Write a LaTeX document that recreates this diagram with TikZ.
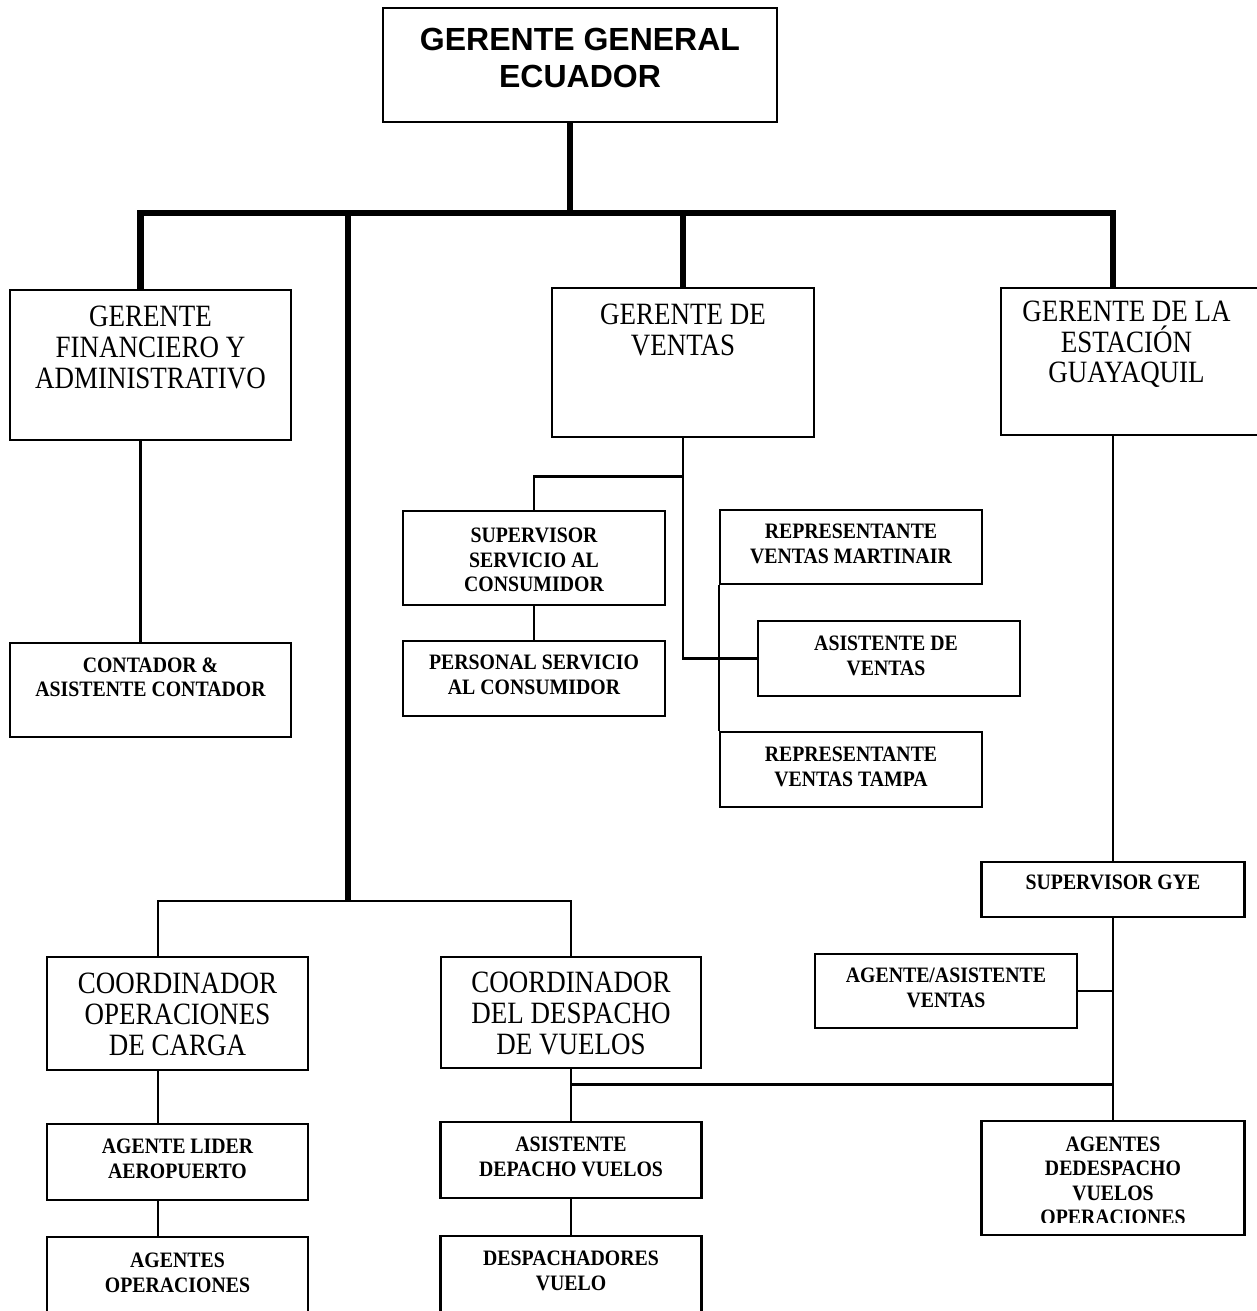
\documentclass[tikz,border=0pt]{standalone}
\usepackage{fontspec}
\setmainfont{Liberation Serif}
\newfontfamily\headfont{Liberation Sans}
\newfontfamily\tallserif{Liberation Serif}[FakeStretch=0.87]
\newfontfamily\narrowserif{Liberation Serif}[FakeStretch=0.9]
\begin{document}
\begin{tikzpicture}[x=1pt,y=-1pt,
  box/.style={draw, line width=2.6pt, fill=white, inner sep=0pt},
  bus/.style={line width=6.5pt},
  link/.style={line width=2.4pt},
  headtxt/.style={inner sep=0pt, align=center, font=\headfont\bfseries\fontsize{32}{37}\selectfont},
  bigtxt/.style={inner sep=0pt, align=center, font=\tallserif\fontsize{31}{31}\selectfont},
  smalltxt/.style={inner sep=0pt, align=center, font=\narrowserif\bfseries\fontsize{22}{24.5}\selectfont}]
\useasboundingbox (0,0) rectangle (1257,1311);
\clip (0,0) rectangle (1257,1311);

% --- boxes (geometry only) ---
\path
  (580,65)      node[box, minimum width=394pt, minimum height=114pt] (top) {}
  (150.5,365)   node[box, minimum width=281pt, minimum height=150pt] (fin) {}
  (683,362.5)   node[box, minimum width=262pt, minimum height=149pt] (ventas) {}
  (1131.5,361.5) node[box, minimum width=261pt, minimum height=147pt] (gye) {}
  (150.5,690)   node[box, minimum width=281pt, minimum height=94pt] (contador) {}
  (534,558)     node[box, minimum width=262pt, minimum height=94pt] (superv) {}
  (534,678.5)   node[box, minimum width=262pt, minimum height=75pt] (personal) {}
  (851,547)     node[box, minimum width=262pt, minimum height=74pt] (mart) {}
  (889,658.5)   node[box, minimum width=262pt, minimum height=75pt] (asisv) {}
  (851,769.5)   node[box, minimum width=262pt, minimum height=75pt] (tampa) {}
  (1113,889.5)  node[box, minimum width=263pt, minimum height=55pt] (supgye) {}
  (946,991)     node[box, minimum width=262pt, minimum height=74pt] (agasis) {}
  (1113,1178)   node[box, minimum width=263pt, minimum height=114pt] (agdesp) {}
  (177.5,1013.5) node[box, minimum width=261pt, minimum height=113pt] (carga) {}
  (571,1012.5)  node[box, minimum width=260pt, minimum height=111pt] (coordesp) {}
  (177.5,1162)  node[box, minimum width=261pt, minimum height=76pt] (lider) {}
  (177.5,1291)  node[box, minimum width=261pt, minimum height=108pt] (agops) {}
  (571,1160)    node[box, minimum width=261pt, minimum height=76pt] (asisdesp) {}
  (571,1290.5)  node[box, minimum width=261pt, minimum height=109pt] (despach) {};

% --- junction points ---
\coordinate (bustop) at (570,213);
\coordinate (opsplit) at (348,902);
\coordinate (j1) at ([yshift=-15pt]coordesp.south);

% --- main (thick) lines ---
\draw[bus] ([xshift=-10pt]top.south) -- (bustop);
\draw[bus] ([xshift=-10pt]fin.north) |- (bustop) -| ([xshift=-18.5pt]gye.north);
\draw[bus] (ventas.north) -- (ventas.north |- bustop);
\draw[bus] (opsplit |- bustop) -- (opsplit);

% --- thin lines ---
\draw[link] ([xshift=-10pt]fin.south) -- ([xshift=-10pt]contador.north);
\draw[link] (ventas.south) |- (asisv.west);
\draw[link] ([yshift=-38pt]ventas.south) -| (superv.north);
\draw[link] (superv.south) -- (personal.north);
\draw[link] (mart.south west) -- (tampa.north west);
\draw[link] ([xshift=-18.5pt]gye.south) -- (supgye.north);
\draw[link] (supgye.south) -- (agdesp.north);
\draw[link] (agasis.east) -- (agasis.east -| supgye.south);
\draw[link] ([xshift=-19.5pt]carga.north) |- ([yshift=55pt]coordesp.north) -- (coordesp.north);
\draw[link] ([xshift=-19.5pt]carga.south) -- ([xshift=-19.5pt]lider.north);
\draw[link] ([xshift=-19.5pt]lider.south) -- ([xshift=-19.5pt]agops.north);
\draw[link] (coordesp.south) -- (asisdesp.north);
\draw[link] (asisdesp.south) -- (despach.north);
\draw[link] (j1) -- (j1 -| supgye.south);

% --- labels ---
\node[headtxt, anchor=north] (top-t) at ([yshift=-21pt]top.north) {GERENTE GENERAL\\ECUADOR};
\node[bigtxt, anchor=north] (fin-t) at ([yshift=-17.5pt]fin.north) {GERENTE\\FINANCIERO Y\\ADMINISTRATIVO};
\node[bigtxt, anchor=north] (ventas-t) at ([yshift=-17.5pt]ventas.north) {GERENTE DE\\VENTAS};
\node[bigtxt, anchor=north, font=\tallserif\fontsize{31}{30.5}\selectfont] (gye-t) at ([xshift=-5pt,yshift=-14.5pt]gye.north) {GERENTE DE LA\\ESTACIÓN\\GUAYAQUIL};
\node[smalltxt, anchor=north] (contador-t) at ([yshift=-15.5pt]contador.north) {CONTADOR \&\\ASISTENTE CONTADOR};
\node[smalltxt, anchor=north] (superv-t) at ([yshift=-18.5pt]superv.north) {SUPERVISOR\\SERVICIO AL\\CONSUMIDOR};
\node[smalltxt, anchor=north] (personal-t) at ([yshift=-15.5pt]personal.north) {PERSONAL SERVICIO\\AL CONSUMIDOR};
\node[smalltxt, anchor=north] (mart-t) at ([yshift=-15.5pt]mart.north) {REPRESENTANTE\\VENTAS MARTINAIR};
\node[smalltxt, anchor=north] (asisv-t) at ([xshift=-3pt,yshift=-16.5pt]asisv.north) {ASISTENTE DE\\VENTAS};
\node[smalltxt, anchor=north] (tampa-t) at ([yshift=-16.5pt]tampa.north) {REPRESENTANTE\\VENTAS TAMPA};
\node[smalltxt, anchor=north] (supgye-t) at ([yshift=-14.5pt]supgye.north) {SUPERVISOR GYE};
\node[smalltxt, anchor=north] (agasis-t) at ([yshift=-15.5pt]agasis.north) {AGENTE/ASISTENTE\\VENTAS};
\node[bigtxt, anchor=north] (carga-t) at ([yshift=-17.5pt]carga.north) {COORDINADOR\\OPERACIONES\\DE CARGA};
\node[bigtxt, anchor=north] (coordesp-t) at ([yshift=-16.5pt]coordesp.north) {COORDINADOR\\DEL DESPACHO\\DE VUELOS};
\node[smalltxt, anchor=north] (lider-t) at ([yshift=-16.5pt]lider.north) {AGENTE LIDER\\AEROPUERTO};
\node[smalltxt, anchor=north] (agops-t) at ([yshift=-17.5pt]agops.north) {AGENTES\\OPERACIONES};
\node[smalltxt, anchor=north] (asisdesp-t) at ([yshift=-16.5pt]asisdesp.north) {ASISTENTE\\DEPACHO VUELOS};
\node[smalltxt, anchor=north] (despach-t) at ([yshift=-16.5pt]despach.north) {DESPACHADORES\\VUELO};
\begin{scope}
  % the last line of this label is cut off by the box
  \clip (agdesp.north west) rectangle ([yshift=14pt]agdesp.south east);
  \node[smalltxt, anchor=north] (agdesp-t) at ([yshift=-17pt]agdesp.north) {AGENTES\\DEDESPACHO\\VUELOS\\OPERACIONES};
\end{scope}
\end{tikzpicture}
\end{document}
